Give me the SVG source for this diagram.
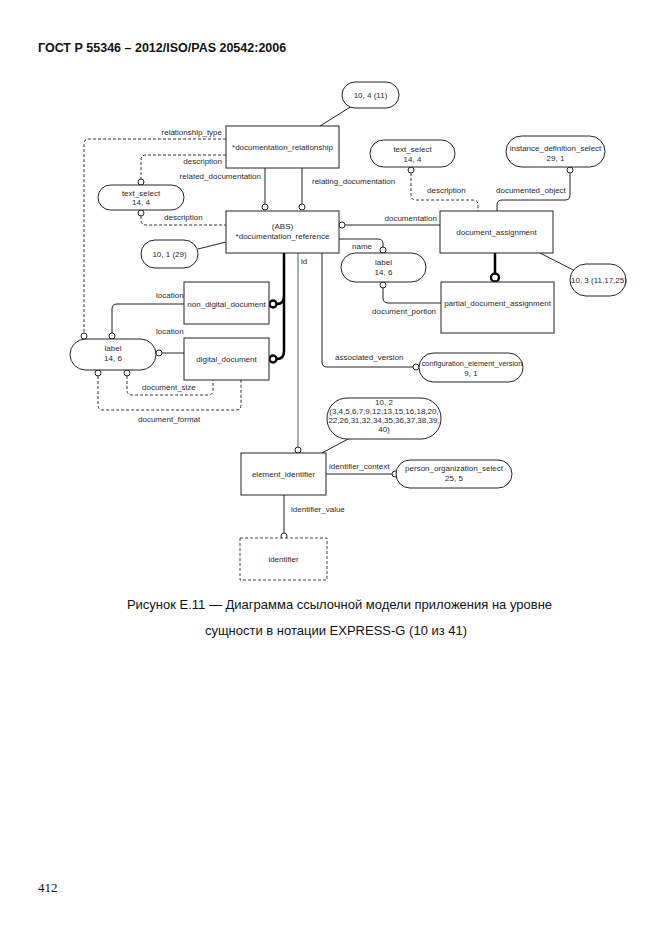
<svg xmlns="http://www.w3.org/2000/svg" width="662" height="935" viewBox="0 0 662 935">
<style>
.bg{fill:#fff}
.box{fill:#fff;stroke:#222;stroke-width:1}
.dbox{fill:#fff;stroke:#444;stroke-width:1;stroke-dasharray:3,2}
.t{font-family:"Liberation Sans",Arial,sans-serif;font-size:8px;fill:#2a2a2a}
.s{font-size:7.4px}
.m{text-anchor:middle}
.e{text-anchor:end}
.ln{fill:none;stroke:#222;stroke-width:1}
.dl{fill:none;stroke:#333;stroke-width:1;stroke-dasharray:3,2}
.th{fill:none;stroke:#000;stroke-width:2.5}
.gr{fill:none;stroke:#999;stroke-width:1.6}
.c{fill:#fff;stroke:#222;stroke-width:1}
.ct{fill:#fff;stroke:#000;stroke-width:2.3}
.hd{font-family:"Liberation Sans",Arial,sans-serif;font-size:12.5px;font-weight:bold;fill:#111}
.cap{font-family:"Liberation Sans",Arial,sans-serif;font-size:13px;fill:#111;text-anchor:middle}
.pg{font-family:"Liberation Serif","Times New Roman",serif;font-size:13px;fill:#111}
</style>
<rect class="bg" x="0" y="0" width="662" height="935"/>
<text class="hd" x="38" y="52">ГОСТ Р 55346 – 2012/ISO/PAS 20542:2006</text>

<g id="connectors">
<path class="dl" d="M226,139 H89 Q84,139 84,144 V333"/>
<circle class="c" cx="84" cy="336" r="3"/>
<path class="dl" d="M226,155 H146 Q141,155 141,160 V179"/>
<circle class="c" cx="141" cy="182" r="3"/>
<path class="ln" d="M265,168 V204"/>
<circle class="c" cx="265" cy="207" r="3"/>
<path class="ln" d="M302,168 V204"/>
<circle class="c" cx="302" cy="207" r="3"/>
<circle class="c" cx="141" cy="213" r="3"/>
<path class="dl" d="M141,216 V220 Q141,225 146,225 H226"/>
<path class="ln" d="M198,249 L226,242"/>
<path class="ln" d="M320,126 L352,106"/>
<circle class="c" cx="342" cy="225" r="3"/>
<path class="ln" d="M345,225 H440"/>
<path class="ln" d="M339,239 H378 Q383,239 383,244 V247"/>
<circle class="c" cx="383" cy="250" r="3"/>
<circle class="c" cx="383" cy="285" r="3"/>
<path class="ln" d="M383,288 V298 Q383,303 388,303 H441"/>
<path class="th" d="M495,253 V273"/>
<circle class="ct" cx="495" cy="277.5" r="4"/>
<path class="ln" d="M540,253 L577,272"/>
<circle class="c" cx="411" cy="170" r="3"/>
<path class="dl" d="M411,173 V195 Q411,200 416,200 H473 Q478,200 478,205 V211"/>
<circle class="c" cx="570" cy="170" r="3"/>
<path class="ln" d="M570,173 V195 Q570,200 565,200 H502 Q497,200 497,205 V211"/>
<path class="th" d="M284,253 V351 Q284,359 277,359"/>
<path class="th" d="M284,296 Q284,304 277,304"/>
<circle class="ct" cx="273" cy="304" r="3.5"/>
<circle class="ct" cx="273" cy="359" r="3.5"/>
<path class="ln" d="M184,304 H117 Q112,304 112,309 V333"/>
<circle class="c" cx="112" cy="336" r="3"/>
<circle class="c" cx="159" cy="353" r="3"/>
<path class="ln" d="M162,353 H184"/>
<circle class="c" cx="127" cy="373" r="3"/>
<path class="dl" d="M127,376 V390 Q127,395 132,395 H208 Q213,395 213,390 V380"/>
<circle class="c" cx="98" cy="373" r="3"/>
<path class="dl" d="M98,376 V405 Q98,410 103,410 H236 Q241,410 241,405 V380"/>
<path class="gr" d="M298,253 V447"/>
<circle class="c" cx="298" cy="450" r="3"/>
<path class="ln" d="M322,253 V362 Q322,367 327,367 H413"/>
<circle class="c" cx="416" cy="367" r="3"/>
<path class="ln" d="M322,453 L350,438"/>
<path class="ln" d="M326,474 H392"/>
<circle class="c" cx="395" cy="474" r="3"/>
<path class="ln" d="M284,495 V533"/>
<circle class="c" cx="284" cy="536" r="3"/>

<text class="t e" x="222" y="135">relationship_type</text>
<text class="t e" x="222" y="164">description</text>
<text class="t e" x="261" y="179">related_documentation</text>
<text class="t" x="312" y="184">relating_documentation</text>
<text class="t" x="164" y="220">description</text>
<text class="t e" x="437" y="221">documentation</text>
<text class="t" x="352" y="249">name</text>
<text class="t" x="372" y="314">document_portion</text>
<text class="t" x="427" y="193">description</text>
<text class="t" x="496" y="193">documented_object</text>
<text class="t" x="156" y="298">location</text>
<text class="t" x="156" y="334">location</text>
<text class="t" x="142" y="390">document_size</text>
<text class="t" x="138" y="422">document_format</text>
<text class="t" x="301" y="264">id</text>
<text class="t" x="335" y="360">associated_version</text>
<text class="t" x="329" y="469">identifier_context</text>
<text class="t" x="291" y="512">identifier_value</text>
</g>

<g id="ref_10_4"><rect class="box" x="342" y="82" width="57" height="26" rx="13"/><text class="t m" x="370.5" y="98">10, 4 (11)</text></g>
<g id="documentation_relationship"><rect class="box" x="226" y="126" width="113" height="42"/><text class="t m" x="282.5" y="150">*documentation_relationship</text></g>
<g id="text_select_left"><rect class="box" x="98" y="185" width="86" height="25" rx="12.5"/><text class="t m" x="141" y="196">text_select</text><text class="t m" x="141" y="205">14, 4</text></g>
<g id="documentation_reference"><rect class="box" x="226" y="211" width="113" height="42"/><text class="t m" x="282.5" y="229">(ABS)</text><text class="t m" x="282.5" y="239">*documentation_reference</text></g>
<g id="ref_10_1"><rect class="box" x="141" y="240" width="57" height="28" rx="14"/><text class="t m" x="169.5" y="257">10, 1 (29)</text></g>
<g id="document_assignment"><rect class="box" x="440" y="211" width="113" height="42"/><text class="t m" x="496.5" y="235">document_assignment</text></g>
<g id="text_select_right"><rect class="box" x="370" y="140" width="85" height="27" rx="13.5"/><text class="t m" x="412.5" y="152">text_select</text><text class="t m" x="412.5" y="162">14, 4</text></g>
<g id="instance_definition_select"><rect class="box" x="506" y="136" width="99" height="31" rx="15.5"/><text class="t m" x="555.5" y="151">instance_definition_select</text><text class="t m" x="555.5" y="161">29, 1</text></g>
<g id="label_right"><rect class="box" x="341" y="253" width="85" height="29" rx="14.5"/><text class="t m" x="383.5" y="265">label</text><text class="t m" x="383.5" y="275">14, 6</text></g>
<g id="partial_document_assignment"><rect class="box" x="441" y="282" width="113" height="51"/><text class="t m" x="497.5" y="306">partial_document_assignment</text></g>
<g id="ref_10_3"><rect class="box" x="570" y="264" width="56" height="32" rx="16"/><text class="t" x="571" y="283">10, 3 (11,17,25)</text></g>
<g id="non_digital_document"><rect class="box" x="184" y="282" width="85" height="42"/><text class="t m" x="226.5" y="307">non_digital_document</text></g>
<g id="digital_document"><rect class="box" x="184" y="338" width="85" height="42"/><text class="t m" x="226.5" y="362">digital_document</text></g>
<g id="label_left"><rect class="box" x="70" y="339" width="86" height="31" rx="15.5"/><text class="t m" x="113" y="351">label</text><text class="t m" x="113" y="361">14, 6</text></g>
<g id="configuration_element_version"><rect class="box" x="419" y="353" width="104" height="29" rx="14.5"/><text class="t s m" x="472" y="366">configuration_element_version</text><text class="t m" x="471" y="376">9, 1</text></g>
<g id="element_identifier"><rect class="box" x="241" y="453" width="85" height="42"/><text class="t m" x="283.5" y="477">element_identifier</text></g>
<g id="ref_10_2"><rect class="box" x="327" y="398" width="114" height="41" rx="20"/><text class="t m" x="384" y="405">10, 2</text><text class="t m" x="384" y="414">(3,4,5,6,7,9,12,13,15,16,18,20,</text><text class="t m" x="384" y="423">22,26,31,32,34,35,36,37,38,39,</text><text class="t m" x="384" y="432">40)</text></g>
<g id="person_organization_select"><rect class="box" x="396" y="460" width="116" height="28" rx="14"/><text class="t m" x="454" y="471">person_organization_select</text><text class="t m" x="454" y="481">25, 5</text></g>
<g id="identifier"><rect class="dbox" x="240" y="538" width="87" height="42"/><text class="t m" x="283.5" y="562">identifier</text></g>

<text class="cap" x="339.5" y="609">Рисунок Е.11 — Диаграмма ссылочной модели приложения на уровне</text>
<text class="cap" x="336" y="635">сущности в нотации EXPRESS-G (10 из 41)</text>
<text class="pg" x="38" y="892">412</text>
</svg>
